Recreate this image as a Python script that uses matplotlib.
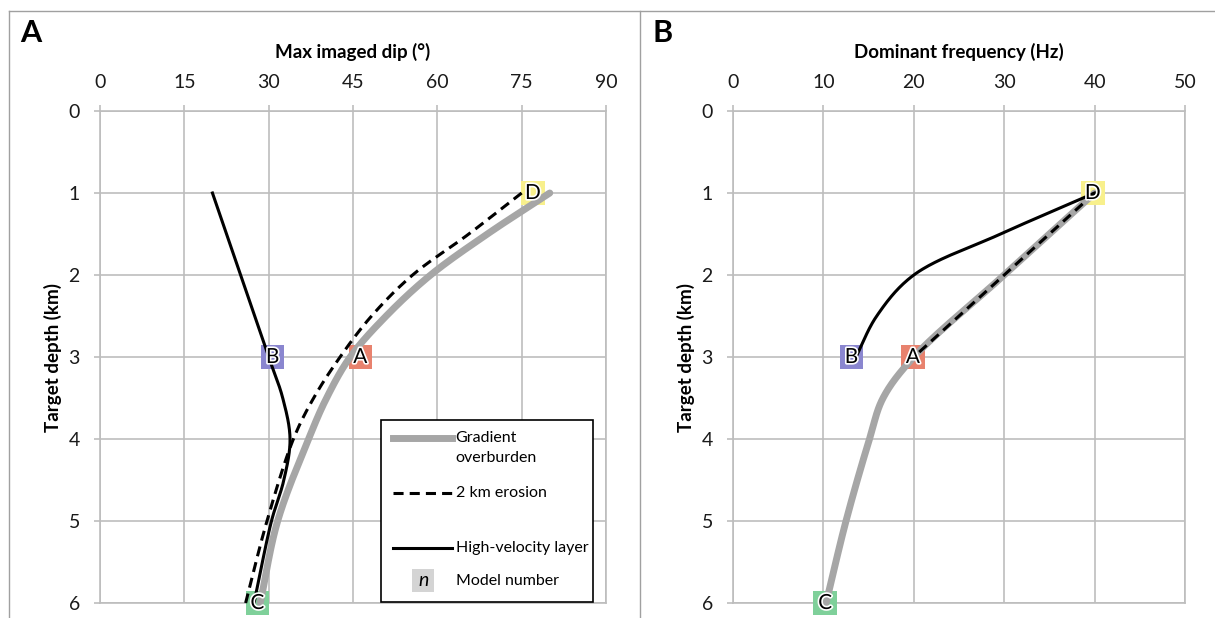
import numpy as np
import matplotlib
matplotlib.use("Agg")
import matplotlib.pyplot as plt
import matplotlib.patheffects as pe
from matplotlib.lines import Line2D
from matplotlib.patches import Rectangle

plt.rcParams['font.family'] = ['Lato', 'DejaVu Sans']

# ---- data ----
dip_grad_depth = [1, 1.5, 2, 2.5, 3, 3.5, 4, 5, 6]
dip_grad = [80, 68.9, 58.8, 50.9, 44.5, 40.3, 37.1, 31.6, 28.5]
dip_eros_depth = [1, 1.5, 2, 2.5, 3, 3.5, 4, 5, 6]
dip_eros = [75, 65.6, 55.6, 48.3, 42.7, 38.0, 34.4, 29.7, 25.9]
dip_hv_depth = [1, 2, 3, 3.5, 4, 4.5, 5, 6]
dip_hv = [20, 25, 30, 32.5, 33.8, 32.7, 30.5, 27.4]

freq_grad_depth = [1, 2, 3, 3.5, 4, 5, 6]
freq_grad = [40, 30, 20, 16.6, 15.1, 12.5, 10.3]
freq_eros_depth = [1, 2, 3]
freq_eros = [40, 30, 20]
freq_hv_depth = [1, 1.5, 2, 2.5, 3]
freq_hv = [40, 29.6, 20, 15.9, 13.6]

model_names = ['A', 'B', 'C', 'D']
model_colors = ['#e8826e', '#8a86cf', '#7fd09a', '#f8f08c']
dip_model_x = [46.3, 30.7, 28.0, 77.0]
freq_model_x = [19.9, 13.1, 10.2, 39.8]
model_depth = [3, 3, 6, 1]

dip_ticks = [0, 15, 30, 45, 60, 75, 90]
freq_ticks = [0, 10, 20, 30, 40, 50]
depth_ticks = [0, 1, 2, 3, 4, 5, 6]

GRID = '#bdbdbd'
GREY_LINE = '#a6a6a6'


def smooth(xs, ys, sx, sy, n=40):
    # centripetal Catmull-Rom through the points (screen-scaled), like a
    # spreadsheet "smoothed line"
    p = np.column_stack([np.asarray(xs, float) * sx, np.asarray(ys, float) * sy])
    if len(p) < 3:
        return p[:, 0] / sx, p[:, 1] / sy
    p = np.vstack([2 * p[0] - p[1], p, 2 * p[-1] - p[-2]])
    out = []
    for i in range(1, len(p) - 2):
        P0, P1, P2, P3 = p[i - 1], p[i], p[i + 1], p[i + 2]
        t0 = 0.0
        t1 = t0 + np.linalg.norm(P1 - P0) ** 0.5
        t2 = t1 + np.linalg.norm(P2 - P1) ** 0.5
        t3 = t2 + np.linalg.norm(P3 - P2) ** 0.5
        t = np.linspace(t1, t2, n)[:, None]
        A1 = (t1 - t) / (t1 - t0) * P0 + (t - t0) / (t1 - t0) * P1
        A2 = (t2 - t) / (t2 - t1) * P1 + (t - t1) / (t2 - t1) * P2
        A3 = (t3 - t) / (t3 - t2) * P2 + (t - t2) / (t3 - t2) * P3
        B1 = (t2 - t) / (t2 - t0) * A1 + (t - t0) / (t2 - t0) * A2
        B2 = (t3 - t) / (t3 - t1) * A2 + (t - t1) / (t3 - t1) * A3
        C = (t2 - t) / (t2 - t1) * B1 + (t - t1) / (t2 - t1) * B2
        out.append(C if i == 1 else C[1:])
    out = np.vstack(out)
    return out[:, 0] / sx, out[:, 1] / sy


def style_axes(ax, xmax, xticks, xlabel):
    ax.set_xlim(0, xmax)
    ax.set_ylim(6, 0)
    ax.set_xticks(xticks)
    ax.set_yticks(depth_ticks)
    ax.xaxis.tick_top()
    ax.grid(True, color=GRID, lw=1.2)
    ax.set_axisbelow(True)
    for s in ax.spines.values():
        s.set_color(GRID)
        s.set_linewidth(1.2)
    ax.tick_params(axis='both', direction='out', length=4.5, width=1.2, color=GRID,
                   labelsize=14, labelcolor='#1a1a1a', pad=10)
    ax.set_xlabel(xlabel, fontsize=13.5, fontweight='bold')
    ax.xaxis.set_label_position('top')
    ax.xaxis.label.set_va('center')
    ax.xaxis.set_label_coords(0.5, 1 + 59 / 491)
    ax.set_ylabel('Target depth (km)', fontsize=13.5, fontweight='bold')
    ax.yaxis.label.set_va('center')


def draw_models(ax, xs):
    for name, c, x, d in zip(model_names, model_colors, xs, model_depth):
        ax.scatter([x], [d], marker='s', s=17 ** 2, color=c, edgecolors='none',
                   zorder=3, clip_on=False)
        ax.text(x, d, name, ha='center', va='center', fontsize=15, color='black',
                zorder=6, path_effects=[pe.withStroke(linewidth=2.4, foreground='white')])


def draw_series(ax, xs, ds, sx, **kw):
    x, y = smooth(xs, ds, sx, 82.0)
    ax.plot(x, y, clip_on=False, **kw)


fig = plt.figure(figsize=(12.15, 6.18), dpi=100)
ax1 = fig.add_axes([100 / 1215, 15 / 618, 506 / 1215, 492 / 618])
ax2 = fig.add_axes([733 / 1215, 15 / 618, 452 / 1215, 492 / 618])

dash = (0, (3.3, 2.0))

# panel A
style_axes(ax1, 90, dip_ticks, 'Max imaged dip (°)')
ax1.yaxis.set_label_coords(-0.093, 0.5)
draw_models(ax1, dip_model_x)
sx1 = 506 / 90
draw_series(ax1, dip_grad, dip_grad_depth, sx1, color=GREY_LINE, lw=5,
            solid_capstyle='round', zorder=4)
draw_series(ax1, dip_eros, dip_eros_depth, sx1, color='black', lw=2.2, ls=dash, zorder=5)
draw_series(ax1, dip_hv, dip_hv_depth, sx1, color='black', lw=2.2, zorder=5)

# legend box, drawn by hand to keep the spacing of the original
T = ax1.transAxes
ax1.add_patch(Rectangle((0.555, 0.003), 0.42, 0.368, transform=T, facecolor='white',
                        edgecolor='black', lw=1.2, zorder=7))
lx0, lx1, tx = 0.580, 0.695, 0.703
fs = 11.5
ax1.add_line(Line2D([lx0, lx1], [0.336, 0.336], transform=T, color=GREY_LINE, lw=5, zorder=8))
ax1.text(tx, 0.336, 'Gradient', transform=T, fontsize=fs, va='center', zorder=8)
ax1.text(tx, 0.294, 'overburden', transform=T, fontsize=fs, va='center', zorder=8)
ax1.add_line(Line2D([lx0, lx1], [0.224, 0.224], transform=T, color='black', lw=2.2,
                    ls=dash, zorder=8))
ax1.text(tx, 0.224, '2 km erosion', transform=T, fontsize=fs, va='center', zorder=8)
ax1.add_line(Line2D([lx0, lx1], [0.112, 0.112], transform=T, color='black', lw=2.2, zorder=8))
ax1.text(tx, 0.112, 'High-velocity layer', transform=T, fontsize=fs, va='center', zorder=8)
ax1.add_patch(Rectangle((0.617, 0.022), 0.044, 0.048, transform=T, facecolor='#d4d4d4',
                        edgecolor='none', zorder=8))
ax1.text(0.639, 0.045, 'n', transform=T, fontsize=14, style='italic', ha='center',
         va='center', zorder=9)
ax1.text(tx, 0.045, 'Model number', transform=T, fontsize=fs, va='center', zorder=8)

# panel B
style_axes(ax2, 50, freq_ticks, 'Dominant frequency (Hz)')
ax2.yaxis.set_label_coords(-0.104, 0.5)
draw_models(ax2, freq_model_x)
sx2 = 452 / 50
draw_series(ax2, freq_grad, freq_grad_depth, sx2, color=GREY_LINE, lw=5,
            solid_capstyle='round', zorder=4)
draw_series(ax2, freq_eros, freq_eros_depth, sx2, color='black', lw=2.2, ls=dash, zorder=5)
draw_series(ax2, freq_hv, freq_hv_depth, sx2, color='black', lw=2.2, zorder=5)

# panel frame and letters
frame = '#a0a0a0'
fig.add_artist(Line2D([9 / 1215, 1], [1 - 11 / 618, 1 - 11 / 618], transform=fig.transFigure,
                      color=frame, lw=1))
fig.add_artist(Line2D([9 / 1215, 9 / 1215], [0, 1 - 11 / 618], transform=fig.transFigure,
                      color=frame, lw=1))
fig.add_artist(Line2D([640 / 1215, 640 / 1215], [0, 1 - 11 / 618], transform=fig.transFigure,
                      color=frame, lw=1))
fig.text(31 / 1215, 1 - 33 / 618, 'A', fontsize=22, fontweight='bold', ha='center', va='center')
fig.text(663 / 1215, 1 - 33 / 618, 'B', fontsize=22, fontweight='bold', ha='center', va='center')

fig.savefig('out.png', dpi=100)
